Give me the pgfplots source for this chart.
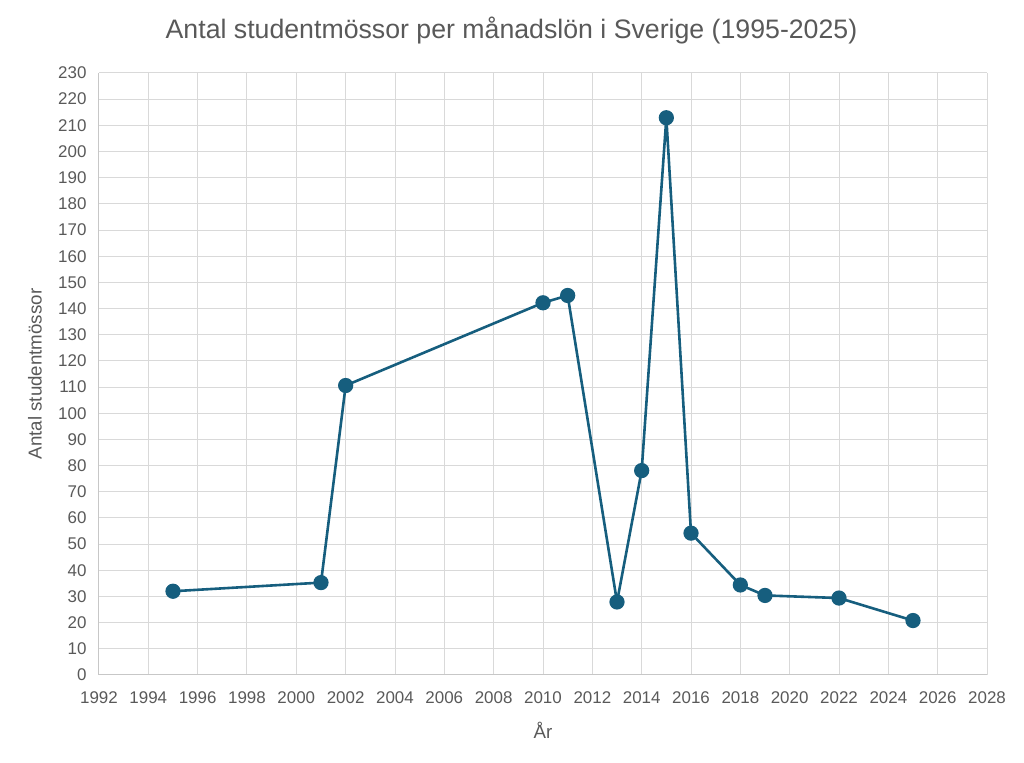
\documentclass[border=0pt]{standalone}
\usepackage{fontspec}
\setmainfont{Liberation Sans}
\usepackage{pgfplots}
\pgfplotsset{compat=1.18}

\definecolor{serie}{RGB}{22,94,126}
\definecolor{rutnat}{RGB}{217,217,217}
\definecolor{textgra}{RGB}{89,89,89}

\begin{document}
\begin{tikzpicture}[x=1bp,y=1bp]

% hela bildens yta (1024 x 763 px)
\path[use as bounding box] (-99,-88) rectangle (925,675);

\begin{axis}[
  at={(0,0)}, anchor=south west,
  scale only axis,
  width=888bp, height=602bp,
  xmin=1992, xmax=2028,
  ymin=0, ymax=230,
  xtick={1992,1994,...,2028},
  ytick={0,10,...,230},
  /pgf/number format/1000 sep={},
  /pgf/number format/assume math mode=true,
  tick label style={font=\fontsize{17}{20}\selectfont, text=textgra},
  xticklabel style={yshift=-13bp},
  yticklabel style={xshift=-9bp},
  grid=major,
  major grid style={rutnat, line width=1bp},
  axis line style={rutnat!80!gray, line width=1bp},
  axis x line*=bottom, axis y line*=left,
  tick style={draw=none},
  clip=false,
]

\addplot [serie, line width=2.6bp, mark=*, mark size=6.3bp,
          mark options={fill=serie, draw=serie}] coordinates {
(1995,32.0)
(2001,35.3)
(2002,110.6)
(2010,142.2)
(2011,145.0)
(2013,27.9)
(2014,78.1)
(2015,212.9)
(2016,54.2)
(2018,34.4)
(2019,30.4)
(2022,29.4)
(2025,20.8)
};

\end{axis}

\node[text=textgra, font=\fontsize{26.8}{31}\selectfont] at (412.5,644)
  {Antal studentmössor per månadslön i Sverige (1995-2025)};
\node[text=textgra, font=\fontsize{18.8}{22}\selectfont, rotate=90] at (-64,301)
  {Antal studentmössor};
\node[text=textgra, font=\fontsize{18.8}{22}\selectfont] at (444,-55) {År};

\end{tikzpicture}
\end{document}
